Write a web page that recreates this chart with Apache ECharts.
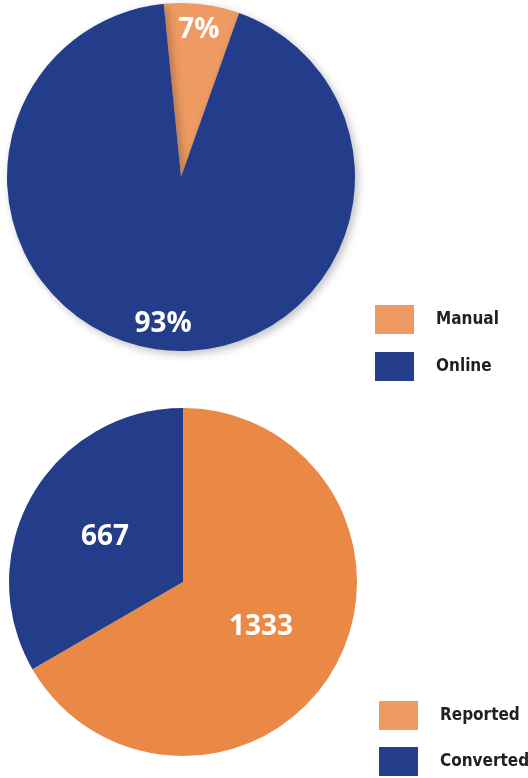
<!DOCTYPE html>
<html>
<head>
<meta charset="utf-8">
<script src="https://cdn.jsdelivr.net/npm/echarts@6/dist/echarts.min.js"></script>
<style>
  html, body { margin: 0; padding: 0; background: #fff; }
  #chart { width: 528px; height: 778px; }
</style>
</head>
<body>
<div id="chart"></div>
<script>
// 数据
var channelNames = ['Manual', 'Online'];
var channelPercent = [7, 93];
var statusNames = ['Reported', 'Converted'];
var statusCounts = [1333, 667];

var orange = '#EE9A62';
var orangeDark = '#EA8845';
var blue = '#243D8B';

var legendFont = '"DejaVu Sans Condensed", "Liberation Sans Narrow", sans-serif';
var labelFont = '"Open Sans", "Noto Sans", sans-serif';

var chart = echarts.init(document.getElementById('chart'));

var topData = [];
for (var i = 0; i < channelNames.length; i++) {
    topData.push({ name: channelNames[i], value: channelPercent[i] });
}
var bottomData = [];
for (var j = 0; j < statusNames.length; j++) {
    bottomData.push({ name: statusNames[j], value: statusCounts[j] });
}

// 图例：每项单独一个，避免换列
function oneLegend(name, x, y, color) {
    var item = { name: name };
    if (color) item.itemStyle = { color: color };
    return {
        orient: 'vertical',
        left: x,
        top: y,
        padding: 0,
        itemWidth: 39,
        itemHeight: 29,
        icon: 'rect',
        data: [item],
        textStyle: {
            fontFamily: legendFont,
            fontWeight: 'bold',
            fontSize: 17,
            color: '#231F20',
            overflow: 'none',
            padding: [0, 0, 0, 17]
        }
    };
}

var option = {
    animation: false,
    legend: [
        oneLegend(channelNames[0], 375, 305),
        oneLegend(channelNames[1], 375, 352),
        oneLegend(statusNames[0], 379, 701, orange),
        oneLegend(statusNames[1], 379, 747)
    ],
    series: [{
        // 上饼图
        type: 'pie',
        center: [181, 177],
        radius: [0, 174],
        startAngle: 95.7,
        color: [orange, blue],
        silent: true,
        itemStyle: {
            shadowColor: 'rgba(0,0,0,0.25)',
            shadowBlur: 8,
            shadowOffsetX: 3,
            shadowOffsetY: 3
        },
        label: { show: false },
        labelLine: { show: false },
        data: topData
    }, {
        // 上饼图的标签，放在外圈附近
        type: 'pie',
        center: [181, 177],
        radius: [0, 290],
        startAngle: 95.7,
        silent: true,
        legendHoverLink: false,
        itemStyle: { color: 'rgba(0,0,0,0)' },
        label: {
            show: true,
            position: 'inside',
            formatter: '{c}%',
            color: '#fff',
            fontFamily: labelFont,
            fontWeight: 'bold',
            fontSize: 28
        },
        labelLine: { show: false },
        data: topData
    }, {
        // 下饼图
        type: 'pie',
        center: [183, 582],
        radius: [0, 174],
        startAngle: 90,
        color: [orangeDark, blue],
        silent: true,
        label: {
            show: true,
            position: 'inside',
            formatter: '{c}',
            color: '#fff',
            fontFamily: labelFont,
            fontWeight: 'bold',
            fontSize: 28
        },
        labelLine: { show: false },
        data: bottomData
    }]
};

chart.setOption(option);
</script>
</body>
</html>
